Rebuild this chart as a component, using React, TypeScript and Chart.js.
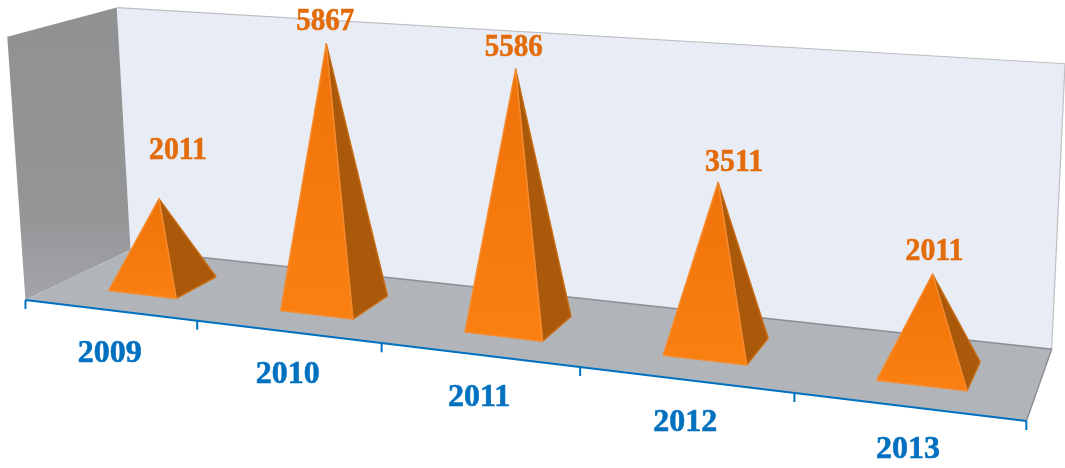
import React, { useEffect, useRef } from "react";
import { Chart, registerables } from "chart.js";

Chart.register(...registerables);

const years = ["2009", "2010", "2011", "2012", "2013"];
const counts = [2011, 5867, 5586, 3511, 2011];
const valueAxisMax = 6000;

// Hand-placed label nudges (pixels from the pyramid tip), as in the original.
const labelShiftX = [19, -1, -2, 16, 2];
const labelShiftY = [-50, -24, -23, -22, -24];

const W = 1065;
const H = 468;

// Camera calibration: box corners (u along the axis, v depth, w height) -> picture.
const cameraFit: number[][] = [
  [0, 0, 0, 26, 300],
  [1, 0, 0, 1026, 422],
  [1, 1, 0, 1052, 348],
  [0, 1, 0, 130, 250],
  [0, 0, 1, 7, 36],
  [0, 1, 1, 117, 8],
  [1, 1, 1, 1065, 64],
];

function solveCamera(pts: number[][]): number[] {
  const rows: number[][] = [];
  for (const [u, v, w, x, y] of pts) {
    rows.push([u, v, w, 1, 0, 0, 0, 0, -x * u, -x * v, -x * w, x]);
    rows.push([0, 0, 0, 0, u, v, w, 1, -y * u, -y * v, -y * w, y]);
  }
  const n = 11;
  const m: number[][] = [];
  for (let i = 0; i < n; i++) {
    const r: number[] = [];
    for (let j = 0; j <= n; j++) {
      let s = 0;
      for (const row of rows) s += row[i] * row[j];
      r.push(s);
    }
    m.push(r);
  }
  for (let c = 0; c < n; c++) {
    let p = c;
    for (let r = c + 1; r < n; r++) if (Math.abs(m[r][c]) > Math.abs(m[p][c])) p = r;
    [m[c], m[p]] = [m[p], m[c]];
    for (let r = 0; r < n; r++) {
      if (r === c) continue;
      const f = m[r][c] / m[c][c];
      for (let k = c; k <= n; k++) m[r][k] -= f * m[c][k];
    }
  }
  return m.map((r, i) => r[n] / r[i]);
}

const cam = solveCamera(cameraFit);
function project(u: number, v: number, w: number): [number, number] {
  const d = cam[8] * u + cam[9] * v + cam[10] * w + 1;
  return [
    (cam[0] * u + cam[1] * v + cam[2] * w + cam[3]) / d,
    (cam[4] * u + cam[5] * v + cam[6] * w + cam[7]) / d,
  ];
}

function poly(ctx: CanvasRenderingContext2D, pts: [number, number][], fill?: any, stroke?: string, lw = 1) {
  ctx.beginPath();
  pts.forEach((p, i) => (i ? ctx.lineTo(p[0], p[1]) : ctx.moveTo(p[0], p[1])));
  ctx.closePath();
  if (fill) {
    ctx.fillStyle = fill;
    ctx.fill();
  }
  if (stroke) {
    ctx.strokeStyle = stroke;
    ctx.lineWidth = lw;
    ctx.lineJoin = "round";
    ctx.stroke();
  }
}

const BLUE = "#0070C0";
const ORANGE_TEXT = "#E36C0A";
const FONT = 'bold 32px "Liberation Serif"';

function boldText(ctx: CanvasRenderingContext2D, text: string, x: number, y: number, color: string, maxWidth: number) {
  ctx.fillStyle = color;
  ctx.strokeStyle = color;
  ctx.lineWidth = 0.6;
  ctx.fillText(text, x, y, maxWidth);
  ctx.strokeText(text, x, y, maxWidth);
}

const pyramid3d = {
  id: "pyramid3d",
  beforeDatasetDraw(chart: any) {
    const { ctx, chartArea: a, scales } = chart;
    const toU = (px: number) => (px - a.left) / (a.right - a.left);
    const toW = (py: number) => (a.bottom - py) / (a.bottom - a.top);
    const meta = chart.getDatasetMeta(0);
    const ds = chart.data.datasets[0];
    ctx.save();

    // back wall
    poly(ctx, [project(0, 1, 0), project(1, 1, 0), project(1, 1, 1), project(0, 1, 1)], "#E8ECF5");
    ctx.strokeStyle = "#BDBFC3";
    ctx.lineWidth = 1.2;
    ctx.beginPath();
    ctx.moveTo(...project(0, 1, 1));
    ctx.lineTo(...project(1, 1, 1));
    ctx.moveTo(...project(1, 1, 0));
    ctx.lineTo(...project(1, 1, 1));
    ctx.stroke();

    // left wall
    const lw = ctx.createLinearGradient(0, 8, 0, 300);
    lw.addColorStop(0, "#8F9193");
    lw.addColorStop(0.7, "#939597");
    lw.addColorStop(1, "#A3A5A8");
    poly(ctx, [project(0, 0, 0), project(0, 1, 0), project(0, 1, 1), project(0, 0, 1)], lw);

    // floor
    poly(ctx, [project(0, 0, 0), project(1, 0, 0), project(1, 1, 0), project(0, 1, 0)], "#B1B5BA");
    ctx.strokeStyle = "#8C8F93";
    ctx.lineWidth = 1.5;
    ctx.beginPath();
    ctx.moveTo(...project(0, 1, 0));
    ctx.lineTo(...project(1, 1, 0));
    ctx.lineTo(...project(1, 0, 0));
    ctx.stroke();

    // category axis line, ticks, labels
    ctx.strokeStyle = BLUE;
    ctx.lineWidth = 2;
    ctx.beginPath();
    ctx.moveTo(...project(0, 0, 0));
    ctx.lineTo(...project(1, 0, 0));
    const xs = scales.x;
    for (let i = 0; i <= years.length; i++) {
      const u = toU(xs.getPixelForValue(i - 0.5));
      const b = project(u, 0, 0);
      ctx.moveTo(b[0], b[1]);
      ctx.lineTo(b[0], b[1] + 9);
    }
    ctx.stroke();

    ctx.font = FONT;
    ctx.textAlign = "center";
    ctx.textBaseline = "middle";
    xs.ticks.forEach((t: any, i: number) => {
      const p = project(toU(xs.getPixelForTick(i)), 0, 0);
      boldText(ctx, xs.getLabelForValue(t.value), p[0], p[1] + 43, BLUE, 64);
    });

    // pyramids
    meta.data.forEach((el: any, i: number) => {
      const halfU = el.width / 2 / (a.right - a.left);
      const u = toU(el.x) + 0.002;
      const tipW = toW(el.y);
      const baseW = toW(el.base);
      const tip = project(u, 0.5, tipW);
      const fl = project(u - halfU, 0.29, baseW);
      const fr = project(u + halfU, 0.29, baseW);
      const br = project(u + halfU, 0.7, baseW);
      const g = ctx.createLinearGradient(0, tip[1], 0, fr[1]);
      g.addColorStop(0, "#EE7208");
      g.addColorStop(1, "#FB8012");
      poly(ctx, [fr, br, tip], "#AA5809", "#C96D14", 1.5);
      poly(ctx, [fl, fr, tip], g, "#F58A2E", 1.5);

      boldText(ctx, String(ds.data[i]), tip[0] + labelShiftX[i], tip[1] + labelShiftY[i] + 2, ORANGE_TEXT, 58);
    });

    ctx.restore();
    return false; // the pyramids above replace the flat bars
  },
};

export default function App() {
  const ref = useRef<HTMLCanvasElement>(null);
  useEffect(() => {
    if (!ref.current) return;
    const chart = new Chart(ref.current, {
      type: "bar",
      data: {
        labels: years,
        datasets: [
          {
            data: counts,
            backgroundColor: "#F57A10",
            barPercentage: 0.4,
            categoryPercentage: 1,
          },
        ],
      },
      options: {
        animation: false,
        responsive: false,
        devicePixelRatio: 1,
        layout: { padding: 0 },
        plugins: { legend: { display: false }, tooltip: { enabled: false } },
        scales: {
          x: { type: "category", display: false },
          y: { type: "linear", display: false, min: 0, max: valueAxisMax },
        },
      },
      plugins: [pyramid3d],
    } as any);
    return () => chart.destroy();
  }, []);
  return (
    <canvas
      ref={ref}
      width={W}
      height={H}
      style={{ position: "fixed", left: 0, top: 0, width: W, height: H, display: "block" }}
    />
  );
}
